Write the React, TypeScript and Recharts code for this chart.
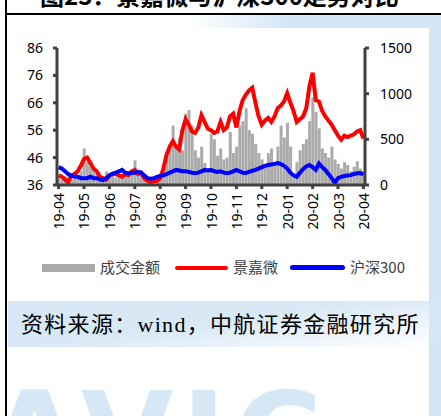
import React from "react";
import { ComposedChart, Bar, Line, XAxis, YAxis } from "recharts";

// month labels on the x axis, 8 samples per month
const months = ["19-04", "19-05", "19-06", "19-07", "19-08", "19-09", "19-10", "19-11", "19-12", "20-01", "20-02", "20-03", "20-04"];

// 成交金额 (right axis)
const amount = [
  80, 60, 100, 90, 60, 70, 110, 150,
  400, 250, 200, 180, 120, 90, 80, 150,
  100, 120, 80, 110, 90, 100, 80, 130,
  270, 160, 140, 110, 90, 70, 80, 60,
  120, 200, 300, 450, 650, 420, 520, 380,
  780, 820, 650, 380, 300, 420, 240, 180,
  560, 500, 320, 400, 280, 300, 580, 350,
  420, 650, 700, 840, 600, 560, 450, 350,
  280, 200, 350, 400, 250, 420, 650, 520,
  680, 420, 120, 250, 380, 450, 500, 700,
  960, 800, 620, 400, 350, 300, 420, 280,
  230, 180, 250, 220, 150, 200, 260, 180,
  150,
];

// 景嘉微 (left axis)
const jjw = [
  39.5, 39, 38, 37, 39.5, 40, 41, 43,
  45.5, 46, 44, 42, 41, 39, 38.5, 38,
  39.5, 40, 40, 39.5, 39, 40, 39.5, 41,
  41.5, 40, 40.5, 38.5, 37.5, 37, 37.5, 37.5,
  38.5, 42, 47, 50, 52, 50, 49, 56,
  60, 58, 55.5, 55, 57, 61.5, 59, 56.5,
  56, 55, 55.5, 59, 56, 57, 61, 62,
  57, 63, 67, 69, 70.5, 71.5, 66, 61,
  58, 59.5, 60.5, 59, 61, 64, 65, 66.5,
  69.5, 66, 63, 59, 60, 61, 64, 72,
  77, 67, 66.5, 63, 61, 59.5, 58, 56,
  54, 52.5, 54, 53.5, 54, 54.5, 55.5, 56,
  53,
];

// 沪深300 (left axis)
const hs300 = [
  42.5, 42, 41, 40, 39.5, 39, 39, 38.5,
  38.5, 38.5, 39, 38.5, 38.5, 38, 37.8, 38.5,
  39.5, 40.2, 40.5, 41, 41.5, 40.5, 40.3, 40.5,
  40.5, 40.8, 40.5, 39.5, 38.5, 38.3, 38.5, 39,
  39.3, 39.5, 40, 40.5, 41, 41.5, 41.3, 41,
  41, 40.8, 40.5, 40.3, 40.5, 41, 41.5, 41.3,
  41.5, 41, 40.8, 41, 40.5, 40.3, 40.5, 41,
  41.5, 41, 40.5, 40.4, 40.8, 41.2, 41.5, 42,
  42.5, 43, 43.3, 43.5, 43.7, 44, 43.6, 43,
  42, 40.5, 39.5, 39, 40.5, 41.8, 42.8, 43.3,
  42.5, 41.5, 43.8, 42.5, 41.5, 40, 38.5, 36.8,
  38.5, 39, 39.3, 39.5, 39.6, 40, 40.3, 40.4,
  39.8,
];

const leftTicks = [36, 46, 56, 66, 76, 86];
const rightTicks = [0, 500, 1000, 1500];

const data = amount.map((a, i) => ({
  d: months[Math.floor(i / 8)] + "|" + (i % 8),
  amount: a,
  jjw: jjw[i],
  hs300: hs300[i],
}));
const xTicks = months.map((m) => m + "|0");

const axisColor = "#404040";
const tickFont = { fontSize: 14, fill: "#000", fontFamily: "'Noto Sans', sans-serif" };

const XTick = (props: any) => {
  const { x, payload } = props;
  const y = 193;
  return (
    <text
      x={x}
      y={y}
      transform={`rotate(-90 ${x} ${y})`}
      textAnchor="end"
      dominantBaseline="central"
      fontSize={14}
      fill="#000"
      fontFamily="'Noto Sans', sans-serif"
    >
      {String(payload.value).split("|")[0]}
    </text>
  );
};

const lightBlue = "#d3e6f5";

export default function App() {
  return (
    <div style={{ position: "absolute", left: 0, top: 0, width: 441, height: 416, background: "#fff", overflow: "hidden" }}>
      {/* watermark background */}
      <div style={{ position: "absolute", left: 190, top: 15, width: 251, height: 13, background: `linear-gradient(100deg, rgba(211,230,245,0) 0%, ${lightBlue} 40%)` }} />
      <div style={{ position: "absolute", left: 429, top: 15, width: 12, height: 401, background: lightBlue }} />
      <div style={{ position: "absolute", left: 8, top: 301, width: 433, height: 46, background: "linear-gradient(172deg, #d8e8f5 45%, rgba(216,232,245,0) 100%)" }} />
      <div style={{ position: "absolute", left: -12, top: 376, fontSize: 120, fontWeight: 900, color: "#d6e7f5", fontFamily: "'DejaVu Sans', sans-serif", letterSpacing: 8, lineHeight: 1 }}>
        AVIC
      </div>

      {/* clipped title at top */}
      <div style={{ position: "absolute", left: 0, top: 0, width: 441, height: 12, overflow: "hidden" }}>
        <div style={{ position: "absolute", left: 40, top: -17, fontSize: 24, fontWeight: 700, color: "#000", fontFamily: "'Noto Sans CJK SC', sans-serif", whiteSpace: "nowrap", lineHeight: 1 }}>
          图23：景嘉微与沪深300走势对比
        </div>
      </div>
      <div style={{ position: "absolute", left: 5, top: 13, width: 436, height: 2, background: "#000" }} />
      <div style={{ position: "absolute", left: 5, top: 0, width: 2, height: 416, background: "#000" }} />

      <div style={{ position: "absolute", left: 0, top: 0 }}>
        <ComposedChart width={441} height={240} data={data} margin={{ top: 48, left: 12, right: 16, bottom: 5 }}>
          <XAxis
            dataKey="d"
            ticks={xTicks}
            interval={0}
            height={50}
            tick={<XTick />}
            axisLine={{ stroke: axisColor, strokeWidth: 3 }}
            tickLine={{ stroke: axisColor, strokeWidth: 3 }}
            tickSize={4}
          />
          <YAxis
            yAxisId="l"
            domain={[36, 86]}
            ticks={leftTicks}
            width={45}
            allowDataOverflow
            tick={tickFont}
            axisLine={{ stroke: axisColor, strokeWidth: 3 }}
            tickLine={{ stroke: axisColor, strokeWidth: 3 }}
            tickSize={4}
            tickMargin={10}
          />
          <YAxis
            yAxisId="r"
            orientation="right"
            domain={[0, 1500]}
            ticks={rightTicks}
            width={60}
            tick={tickFont}
            axisLine={{ stroke: axisColor, strokeWidth: 3 }}
            tickLine={{ stroke: axisColor, strokeWidth: 3 }}
            tickSize={4}
            tickMargin={11}
          />
          <Bar yAxisId="r" dataKey="amount" fill="#ababab" barCategoryGap="12%" isAnimationActive={false} />
          <Line yAxisId="l" dataKey="jjw" stroke="#ff0000" strokeWidth={4} dot={false} type="linear" isAnimationActive={false} />
          <Line yAxisId="l" dataKey="hs300" stroke="#0000ff" strokeWidth={4} dot={false} type="linear" isAnimationActive={false} />
        </ComposedChart>
      </div>

      {/* legend */}
      <div style={{ position: "absolute", left: 0, top: 257, width: 441, height: 20, fontFamily: "'Noto Sans CJK SC', sans-serif", fontSize: 15, color: "#404040" }}>
        <div style={{ position: "absolute", left: 42, top: 7, width: 53, height: 8, background: "#ababab" }} />
        <div style={{ position: "absolute", left: 100, top: 0, lineHeight: "20px" }}>成交金额</div>
        <div style={{ position: "absolute", left: 175, top: 9, width: 53, height: 4, borderRadius: 2, background: "#ff0000" }} />
        <div style={{ position: "absolute", left: 233, top: 0, lineHeight: "20px" }}>景嘉微</div>
        <div style={{ position: "absolute", left: 290, top: 8, width: 55, height: 5, borderRadius: 3, background: "#0000ff" }} />
        <div style={{ position: "absolute", left: 350, top: 0, lineHeight: "20px" }}>沪深300</div>
      </div>

      {/* source */}
      <div style={{ position: "absolute", left: 21, top: 311, fontSize: 22, lineHeight: "28px", color: "#000", fontFamily: "'Liberation Serif', 'Noto Sans CJK SC', serif", whiteSpace: "nowrap", letterSpacing: 1.3 }}>
        资料来源：wind，中航证券金融研究所
      </div>
    </div>
  );
}
